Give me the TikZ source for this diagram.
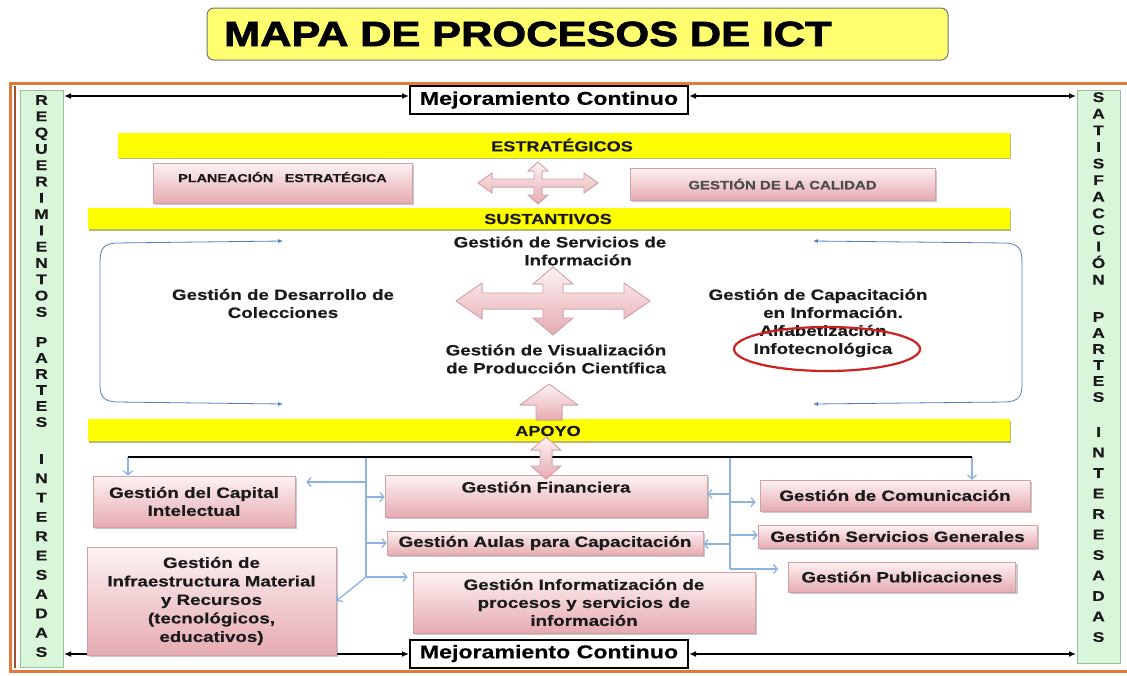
\documentclass[tikz,border=0pt]{standalone}
\usepackage{fontspec}
\setmainfont{Liberation Sans}[FakeStretch=1.25, BoldFeatures={FakeBold=0.4}]
\newfontfamily\titlefont{Liberation Sans}[FakeStretch=1.24, BoldFeatures={FakeBold=2.2}]
\usetikzlibrary{arrows.meta,shadows,shapes.geometric}
\definecolor{frameor}{HTML}{E07B39}
\definecolor{framebr}{HTML}{A0522D}
\definecolor{greenf}{HTML}{DAF6DA}
\definecolor{greene}{HTML}{9CBF9C}
\definecolor{ybar}{HTML}{FFFF00}
\definecolor{yshadow}{HTML}{A8A850}
\definecolor{ytitle}{HTML}{FFFF70}
\definecolor{pinktop}{HTML}{FDF2F2}
\definecolor{pinkbot}{HTML}{E6ABB2}
\definecolor{pinkedge}{HTML}{D3A0A6}
\definecolor{bracketblue}{HTML}{4F7FBF}
\definecolor{lineblue}{HTML}{8DB3E2}
\definecolor{ellred}{HTML}{CC2222}
\definecolor{txt}{HTML}{1A1A1A}
\newcommand\FourArrowDraw[9]{%
 \filldraw[#1] (#2,0) -- (#2-#4,-#5) -- (#2-#4,-#6) -- (#9,-#6) -- (#9,-#3+#7) -- (#8,-#3+#7) -- (0,-#3) -- (-#8,-#3+#7) -- (-#9,-#3+#7) -- (-#9,-#6) -- (-#2+#4,-#6) -- (-#2+#4,-#5) -- (-#2,0) -- (-#2+#4,#5) -- (-#2+#4,#6) -- (-#9,#6) -- (-#9,#3-#7) -- (-#8,#3-#7) -- (0,#3) -- (#8,#3-#7) -- (#9,#3-#7) -- (#9,#6) -- (#2-#4,#6) -- (#2-#4,#5) -- cycle;}
\begin{document}
\begin{tikzpicture}[x=1pt,y=-1pt,
  bodyfont/.style={font=\bfseries\fontsize{15}{18}\selectfont, text=txt},
  pinkbox/.style={draw=pinkedge, line width=0.6, top color=pinktop, bottom color=pinkbot,
    drop shadow={shadow xshift=2pt, shadow yshift=-2pt, opacity=0.35, fill=black!60},
    inner sep=2pt, align=center, bodyfont},
  pinkarrow/.style={draw=pinkedge, line width=0.8, top color=pinktop, bottom color=pinkbot},
  ybarstyle/.style={fill=ybar, draw=none, inner sep=0pt,
    drop shadow={shadow xshift=1.2pt, shadow yshift=-1.8pt, opacity=0.8, fill=yshadow}},
  barlabel/.style={font=\bfseries\fontsize{14.5}{16}\selectfont, text=txt, inner sep=0pt},
  greenbar/.style={fill=greenf, draw=greene, line width=0.8, inner sep=0pt},
  letters/.style={font=\bfseries\fontsize{14}{#1}\selectfont, align=center, inner sep=0pt, text=txt},
  mcbox/.style={draw=black, line width=2, fill=white, inner sep=0pt,
    minimum width=278, minimum height=28, font=\bfseries\fontsize{18.5}{20}\selectfont},
  mcarrow/.style={line width=2, {Latex[length=7pt,width=6pt]}-{Latex[length=7pt,width=6pt]}},
  bracket/.style={draw=bracketblue, line width=0.8, {Latex[length=5pt,width=4pt]}-{Latex[length=5pt,width=4pt]}},
  blueline/.style={draw=lineblue, line width=1.3},
  bluearrow/.style={draw=lineblue, line width=1.3, -{Straight Barb[length=4pt,width=9pt]}},
  plain/.style={bodyfont, align=center, inner sep=0pt}
]
\useasboundingbox (0,0) rectangle (1127,675);
\fill[white] (0,0) rectangle (1127,675);

% title
\node[fill=ytitle, draw=black!55, line width=1, rounded corners=7pt,
  minimum width=741, minimum height=52, text width=707, inner xsep=17pt, align=left,
  font=\titlefont\bfseries\fontsize{35}{38}\selectfont] (title) at (577.5,34) {MAPA DE PROCESOS DE ICT};

% frame
\draw[frameor, line width=3] (1127,83) -- (10,83) -- (10,671) -- (1127,671);
\draw[framebr, line width=1.2] (15,86) -- (15,668);

% green side bars
\node[greenbar, minimum width=43, minimum height=577] (lbar) at (41.5,378.5) {};
\node[greenbar, minimum width=43, minimum height=573] (rbar) at (1098.5,376.5) {};
\node[letters=16.3, anchor=north] (lw1) at (41.5,95) {R\\E\\Q\\U\\E\\R\\I\\M\\I\\E\\N\\T\\O\\S};
\node[letters=16, anchor=north] (lw2) at (41.5,337) {P\\A\\R\\T\\E\\S};
\node[letters=19.3, anchor=north] (lw3) at (41.5,454) {I\\N\\T\\E\\R\\E\\S\\A\\D\\A\\S};
\node[letters=16.6, anchor=north] (rw1) at (1098.5,92) {S\\A\\T\\I\\S\\F\\A\\C\\C\\I\\Ó\\N};
\node[letters=16, anchor=north] (rw2) at (1098.5,312) {P\\A\\R\\T\\E\\S};
\node[letters=20.5, anchor=north] (rw3) at (1098.5,427) {I\\N\\T\\E\\R\\E\\S\\A\\D\\A\\S};

% mejoramiento continuo
\node[mcbox] (mctop) at (549,100) {Mejoramiento Continuo};
\node[mcbox] (mcbot) at (549,653.5) {Mejoramiento Continuo};
\coordinate (lt) at (64,96);
\coordinate (rt) at (1076,96);
\coordinate (lb) at (64,654);
\coordinate (rb) at (1076,654);
\draw[mcarrow] (lt) -- (lt -| mctop.west);
\draw[mcarrow] (rt -| mctop.east) -- (rt);
\draw[mcarrow] (lb) -- (lb -| mcbot.west);
\draw[mcarrow] (rb -| mcbot.east) -- (rb);

% yellow bars
\node[ybarstyle, minimum width=892, minimum height=25] (estbar) at (564,145) {};
\node[barlabel] (estlbl) at (562,145) {ESTRATÉGICOS};
\node[ybarstyle, minimum width=922, minimum height=21] (susbar) at (549,218.5) {};
\node[barlabel] (suslbl) at (548,219) {SUSTANTIVOS};
\node[ybarstyle, minimum width=922, minimum height=22] (apobar) at (549,430) {};
\node[barlabel] (apolbl) at (548,431) {APOYO};

% strategic boxes
\node[pinkbox, minimum width=259, minimum height=40, font=\bfseries\fontsize{11.5}{12}\selectfont] (plan) at (282.5,183) {PLANEACIÓN\quad ESTRATÉGICA\\\mbox{}};
\node[pinkbox, minimum width=305, minimum height=32, font=\bfseries\fontsize{12}{13}\selectfont, text=black!70] (cal) at (782.5,184) {GESTIÓN DE LA CALIDAD};
\begin{scope}[shift={(538,183)}]
\FourArrowDraw{pinkarrow}{60}{21}{14}{10}{4}{9}{10}{4}
\end{scope}

% sustantivos
\node[plain] (serv) at (560,251) {Gestión de Servicios de\\\hspace*{36pt}Información};
\begin{scope}[shift={(553,301)}]
\FourArrowDraw{pinkarrow}{97}{34}{26}{18}{8}{17}{20}{10}
\end{scope}
\node[plain] (desa) at (283,303.5) {Gestión de Desarrollo de\\Colecciones};
\node[plain] (visu) at (556,359) {Gestión de Visualización\\de Producción Científica};
\node[plain] (capa) at (818,323) {Gestión de Capacitación\\\hspace*{30pt}en Información.\\\hspace*{10pt}Alfabetización\\\hspace*{10pt}Infotecnológica};
\node[draw=ellred, line width=2.2, ellipse, minimum width=186, minimum height=44, inner sep=0pt] (circ) at (827,349) {};
\coordinate (lbt) at (283,241);
\coordinate (lbb) at (283,404);
\coordinate (rbt) at (813,241);
\coordinate (rbb) at (813,404);
\draw[bracket] (lbt) -- (116,243) .. controls (104,244) and (100,248) .. (100,262) -- (100,385) .. controls (100,397) and (104,401) .. (116,402) -- (lbb);
\draw[bracket] (rbt) -- (1006,243) .. controls (1018,244) and (1022,248) .. (1022,262) -- (1022,385) .. controls (1022,397) and (1018,401) .. (1006,402) -- (rbb);
\filldraw[pinkarrow] (549,384) -- (578,405) -- (562,405) -- (562,420) -- (536,420) -- (536,405) -- (520,405) -- cycle;

% apoyo
\node[pinkbox, minimum width=202, minimum height=51] (cap) at (194,501.5) {Gestión del Capital\\Intelectual};
\node[pinkbox, minimum width=249, minimum height=108, font=\bfseries\fontsize{15}{18.5}\selectfont] (infra) at (211.5,601) {Gestión de\\Infraestructura Material\\y Recursos\\(tecnológicos,\\educativos)};
\node[pinkbox, minimum width=322, minimum height=42] (fin) at (546,496) {Gestión Financiera\\\mbox{}};
\node[pinkbox, minimum width=316, minimum height=24] (aul) at (545,543) {Gestión Aulas para Capacitación};
\node[pinkbox, minimum width=342, minimum height=61] (inf) at (584,602.5) {Gestión Informatización de\\procesos y servicios de\\información};
\node[pinkbox, minimum width=270, minimum height=31] (com) at (895,495.5) {Gestión de Comunicación};
\node[pinkbox, minimum width=279, minimum height=23] (sg) at (897.5,536.5) {Gestión Servicios Generales};
\node[pinkbox, minimum width=227, minimum height=30] (pub) at (902,577) {Gestión Publicaciones};

\coordinate (bl) at (128,457);
\coordinate (br) at (972,457);
\coordinate (v1t) at (366,457);
\coordinate (v1b) at (366,577);
\coordinate (v2t) at (730,457);
\coordinate (v2b) at (730,569);
\draw[blueline] (v1t) -- (v1b);
\draw[blueline] (v2t) -- (v2b);
\draw[bluearrow] (bl) -- (bl |- cap.north);
\draw[bluearrow] (br) -- (br |- com.north);
\draw[line width=2] (bl) -- (br);
\coordinate (a1) at (366,482);
\coordinate (a2) at (366,497);
\coordinate (a3) at (366,543);
\draw[bluearrow, shorten >=11pt] (a1) -- (a1 -| cap.east);
\draw[bluearrow] (a2) -- (a2 -| fin.west);
\draw[bluearrow] (a3) -- (a3 -| aul.west);
\draw[bluearrow, shorten >=5pt] (v1b) -- (v1b -| inf.west);
\draw[bluearrow] (v1b) -- (infra.east);
\coordinate (b1) at (730,494);
\coordinate (b2) at (730,502);
\coordinate (b3) at (730,544);
\coordinate (b4) at (730,535);
\draw[bluearrow] (b1) -- (b1 -| fin.east);
\draw[bluearrow, shorten >=4pt] (b2) -- (b2 -| com.west);
\draw[bluearrow] (b3) -- (b3 -| aul.east);
\draw[bluearrow] (b4) -- (b4 -| sg.west);
\draw[bluearrow, shorten >=10pt] (v2b) -- (v2b -| pub.west);
\filldraw[pinkarrow] (546,437) -- (561,450) -- (552,450) -- (552,466) -- (561,466) -- (546,479) -- (531,466) -- (540,466) -- (540,450) -- (531,450) -- cycle;
\end{tikzpicture}
\end{document}
